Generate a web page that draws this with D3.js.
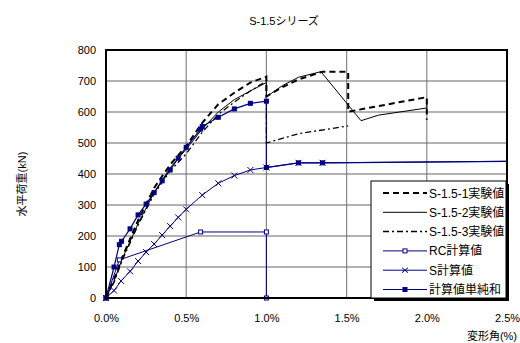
<!DOCTYPE html>
<html>
<head>
<meta charset="utf-8">
<script src="https://cdn.jsdelivr.net/npm/d3@7"></script>
<style>
  body { margin: 0; background: #fff; }
  text { font-family: "Liberation Sans", "Noto Sans CJK JP", sans-serif; fill: #000; }
</style>
</head>
<body>
<div id="chart"></div>
<script>
// drift angle (%), load (kN)
const exp1 = [[0,0],[0.05,60],[0.1,130],[0.2,250],[0.3,355],[0.4,430],[0.5,490],[0.6,565],[0.7,625],[0.8,662],[0.9,695],[1.0,714],[1.0,650],[1.1,680],[1.2,705],[1.35,730],[1.51,730],[1.51,601],[2.0,648],[2.0,575]];
const exp2 = [[0,0],[0.05,55],[0.1,125],[0.2,240],[0.3,340],[0.4,420],[0.5,480],[0.6,545],[0.7,600],[0.8,640],[0.9,668],[1.0,695],[1.0,649],[1.1,685],[1.2,712],[1.34,730],[1.59,572],[1.7,590],[2.0,613],[2.0,628]];
const exp3 = [[0,0],[0.05,50],[0.1,120],[0.2,235],[0.3,335],[0.4,410],[0.5,465],[0.6,535],[0.7,592],[0.8,632],[0.9,668],[1.0,700],[1.0,500],[1.2,530],[1.51,555]];
const rcCalc = [[0,0],[0.083,123],[0.59,213],[1.0,213],[1.0,0]];
const sCalc = [[0,0],[0.05,24],[0.094,55],[0.15,86],[0.2,119],[0.25,148],[0.3,174],[0.35,203],[0.4,232],[0.45,260],[0.5,286],[0.6,332],[0.7,370],[0.8,395],[0.9,413],[1.0,421],[1.2,436],[1.35,436],[2.5,441]];
const sumCalc = [[0,0],[0.05,100],[0.083,172],[0.097,183],[0.15,223],[0.2,268],[0.25,303],[0.3,340],[0.35,378],[0.4,413],[0.45,451],[0.5,486],[0.59,545],[0.6,553],[0.7,583],[0.8,610],[0.9,628],[1.0,635],[1.0,421],[1.2,436],[1.35,436]];
const sumLineTail = [[1.35,436],[2.5,441]];

const seriesNames = ['S-1.5-1実験値','S-1.5-2実験値','S-1.5-3実験値','RC計算値','S計算値','計算値単純和'];
const xTicks = [0, 0.5, 1.0, 1.5, 2.0, 2.5];
const yTicks = [0,100,200,300,400,500,600,700,800];

const width = 520, height = 343;
const margin = { top: 50, right: 13, bottom: 45, left: 106 };
const W = width - margin.left - margin.right;
const H = height - margin.top - margin.bottom;
const navy = '#000080';

const svg = d3.select('#chart').append('svg').attr('width', width).attr('height', height);
const g = svg.append('g').attr('transform', `translate(${margin.left},${margin.top})`);

const x = d3.scaleLinear().domain([0, 2.5]).range([0, W]);
const y = d3.scaleLinear().domain([0, 800]).range([H, 0]);

// grid
g.selectAll('.gx').data(xTicks.slice(1, -1)).enter().append('line')
  .attr('x1', d => x(d)).attr('x2', d => x(d)).attr('y1', 0).attr('y2', H)
  .attr('stroke', '#888').attr('stroke-width', 1.2);
g.selectAll('.gy').data(yTicks.slice(1, -1)).enter().append('line')
  .attr('x1', 0).attr('x2', W).attr('y1', d => y(d)).attr('y2', d => y(d))
  .attr('stroke', '#666').attr('stroke-width', 1.2);

// axes (labels only)
const xAxis = g.append('g').attr('transform', `translate(0,${H})`)
  .call(d3.axisBottom(x).tickValues(xTicks).tickSize(0).tickPadding(16).tickFormat(d => d.toFixed(1) + '%'));
xAxis.select('.domain').remove();
xAxis.selectAll('text').style('font-size', '11px');
const yAxis = g.append('g')
  .call(d3.axisLeft(y).tickValues(yTicks).tickSize(0).tickPadding(10));
yAxis.select('.domain').remove();
yAxis.selectAll('text').style('font-size', '11px');

const line = d3.line().x(d => x(d[0])).y(d => y(d[1]));

function drawLine(data, color, w, dash) {
  g.append('path').datum(data).attr('d', line).attr('fill', 'none')
    .attr('stroke', color).attr('stroke-width', w)
    .attr('stroke-dasharray', dash || null);
}

// calculated series
drawLine(rcCalc, navy, 1);
drawLine(sCalc, navy, 1);
drawLine(sumCalc, navy, 1.2);
drawLine(sumLineTail, navy, 1.2);

// experimental
drawLine(exp3, '#000', 1.3, '6,3,2,3');
drawLine(exp2, '#000', 1);
drawLine(exp1, '#000', 2, '6,4');

// markers
function squares(data, filled) {
  g.selectAll(null).data(data).enter().append('rect')
    .attr('x', d => x(d[0]) - 2).attr('y', d => y(d[1]) - 2)
    .attr('width', 4).attr('height', 4)
    .attr('fill', filled ? navy : '#fff').attr('stroke', navy).attr('stroke-width', 1);
}
function crosses(data) {
  g.selectAll(null).data(data).enter().append('path')
    .attr('d', d => { const cx = x(d[0]), cy = y(d[1]); return `M${cx-3},${cy-3}L${cx+3},${cy+3}M${cx-3},${cy+3}L${cx+3},${cy-3}`; })
    .attr('stroke', navy).attr('stroke-width', 1);
}
crosses(sCalc.slice(0, -1));
squares(rcCalc, false);
squares(sumCalc, true);

// frame
g.append('rect').attr('x', 0).attr('y', 0).attr('width', W).attr('height', H)
  .attr('fill', 'none').attr('stroke', '#000').attr('stroke-width', 2);

// title and axis labels
svg.append('text').attr('x', 284).attr('y', 25).attr('text-anchor', 'middle')
  .style('font-size', '11px').text('S-1.5シリーズ');
svg.append('text').attr('x', 517).attr('y', 340).attr('text-anchor', 'end')
  .style('font-size', '11px').text('変形角(%)');
svg.append('text').attr('transform', 'translate(26,184) rotate(-90)').attr('text-anchor', 'middle')
  .style('font-size', '11px').text('水平荷重(kN)');

// legend
const lg = svg.append('g').attr('transform', 'translate(371,181)');
const lw = 135, lh = 117;
lg.append('rect').attr('x', 3).attr('y', 3).attr('width', lw).attr('height', lh).attr('fill', '#000');
lg.append('rect').attr('x', 0).attr('y', 0).attr('width', lw).attr('height', lh)
  .attr('fill', '#fff').attr('stroke', '#000').attr('stroke-width', 1);
const legStyles = [
  { c: '#000', w: 2, dash: '6,4' },
  { c: '#000', w: 1 },
  { c: '#000', w: 1.5, dash: '6,3,2,3' },
  { c: navy, w: 1, mark: 'open' },
  { c: navy, w: 1, mark: 'cross' },
  { c: navy, w: 1, mark: 'fill' }
];
seriesNames.forEach((name, i) => {
  const cy = 12 + i * 19.3;
  const s = legStyles[i];
  lg.append('line').attr('x1', 12).attr('x2', 56).attr('y1', cy).attr('y2', cy)
    .attr('stroke', s.c).attr('stroke-width', s.w).attr('stroke-dasharray', s.dash || null);
  if (s.mark === 'open' || s.mark === 'fill') {
    lg.append('rect').attr('x', 34 - 2).attr('y', cy - 2).attr('width', 4).attr('height', 4)
      .attr('fill', s.mark === 'fill' ? navy : '#fff').attr('stroke', navy);
  } else if (s.mark === 'cross') {
    lg.append('path').attr('d', `M31,${cy-2.5}L37,${cy+2.5}M31,${cy+2.5}L37,${cy-2.5}`).attr('stroke', navy);
  }
  lg.append('text').attr('x', 58).attr('y', cy + 4.5).style('font-size', '12px').text(name);
});
</script>
</body>
</html>
